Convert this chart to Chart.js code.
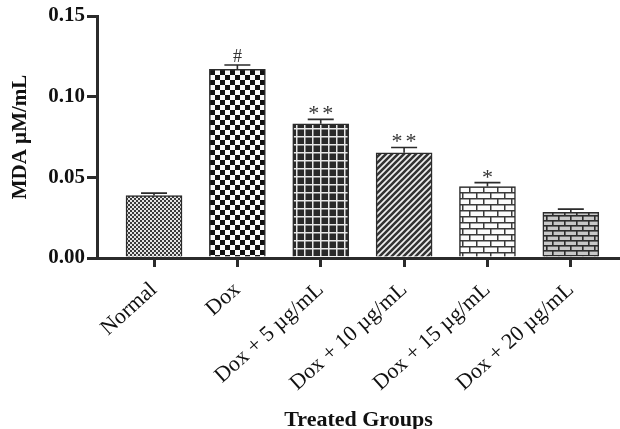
<!DOCTYPE html>
<html>
<head>
<meta charset="utf-8">
<script src="https://cdn.jsdelivr.net/npm/chart.js@4.4.1/dist/chart.umd.min.js"></script>
<style>
  html, body { margin: 0; padding: 0; background: #fff; }
  #wrap { width: 620px; height: 429px; }
</style>
</head>
<body>
<div id="wrap"><canvas id="chart" width="620" height="429"></canvas></div>
<script>
const categories = ['Normal', 'Dox', 'Dox + 5 \u00b5g/mL', 'Dox + 10 \u00b5g/mL', 'Dox + 15 \u00b5g/mL', 'Dox + 20 \u00b5g/mL'];
const mdaValues = [0.0387, 0.117, 0.0832, 0.0652, 0.0443, 0.0283];
const mdaErrors = [0.0015, 0.0026, 0.0027, 0.0033, 0.0024, 0.0020];
const significance = ['', '#', '**', '**', '*', ''];
const yTicks = [0, 0.05, 0.10, 0.15];

const AXIS = '#2b2b2b';
const SERIF = '"Liberation Serif", "DejaVu Serif", serif';

// small tiles used as bar fills
function makePattern(w, h, draw) {
  const c = document.createElement('canvas');
  c.width = w; c.height = h;
  const g = c.getContext('2d');
  draw(g, w, h);
  return g.createPattern(c, 'repeat');
}

const patterns = [
  // fine halftone
  makePattern(4, 4, (g) => {
    g.fillStyle = '#e4e4e4'; g.fillRect(0, 0, 4, 4);
    g.fillStyle = '#3a3a3a'; g.fillRect(0, 0, 2, 2); g.fillRect(2, 2, 2, 2);
  }),
  // large checker
  makePattern(10, 10, (g) => {
    g.fillStyle = '#fafafa'; g.fillRect(0, 0, 10, 10);
    g.fillStyle = '#111'; g.fillRect(0, 0, 5, 5); g.fillRect(5, 5, 5, 5);
  }),
  // dark with white grid
  makePattern(8, 8, (g) => {
    g.fillStyle = '#2a2a2a'; g.fillRect(0, 0, 8, 8);
    g.fillStyle = '#e8e8e8'; g.fillRect(0, 0, 8, 1.5); g.fillRect(0, 0, 1.5, 8);
  }),
  // diagonal dashes
  makePattern(6, 6, (g) => {
    g.fillStyle = '#f0f0f0'; g.fillRect(0, 0, 6, 6);
    g.strokeStyle = '#333'; g.lineWidth = 2.6;
    g.beginPath();
    g.moveTo(-1, 7); g.lineTo(7, -1);
    g.moveTo(-4, 4); g.lineTo(4, -4);
    g.moveTo(2, 10); g.lineTo(10, 2);
    g.stroke();
  }),
  // light bricks
  makePattern(14, 12, (g) => {
    g.fillStyle = '#fbfbfb'; g.fillRect(0, 0, 14, 12);
    g.fillStyle = '#3a3a3a';
    g.fillRect(0, 0, 14, 1.5); g.fillRect(0, 6, 14, 1.5);
    g.fillRect(0, 0, 1.5, 6); g.fillRect(7, 6, 1.5, 6);
  }),
  // darker small bricks
  makePattern(12, 10, (g) => {
    g.fillStyle = '#c8c8c8'; g.fillRect(0, 0, 12, 10);
    g.fillStyle = '#2e2e2e';
    g.fillRect(0, 0, 12, 1.6); g.fillRect(0, 5, 12, 1.6);
    g.fillRect(0, 0, 1.6, 5); g.fillRect(6, 5, 1.6, 5);
  })
];

// error bars (upper only) and significance marks
const errorBarPlugin = {
  id: 'errorBars',
  afterDatasetsDraw(chart) {
    const { ctx, scales: { x, y } } = chart;
    ctx.save();
    ctx.strokeStyle = AXIS;
    ctx.lineWidth = 1.6;
    mdaValues.forEach((v, i) => {
      const px = x.getPixelForValue(i + 1);
      const top = y.getPixelForValue(v + mdaErrors[i]);
      const base = y.getPixelForValue(v);
      ctx.beginPath();
      ctx.moveTo(px, base); ctx.lineTo(px, top);
      ctx.moveTo(px - 13, top); ctx.lineTo(px + 13, top);
      ctx.stroke();
      const s = significance[i];
      if (s) {
        ctx.fillStyle = '#333';
        ctx.textAlign = 'center';
        ctx.textBaseline = 'alphabetic';
        if (s === '#') {
          ctx.font = '18px ' + SERIF;
          ctx.fillText(s, px, top - 3);
        } else {
          ctx.font = '22px ' + SERIF;
          const gap = 14;
          const start = px - (s.length - 1) * gap / 2;
          for (let k = 0; k < s.length; k++) ctx.fillText('*', start + k * gap, top + 1);
        }
      }
    });
    ctx.restore();
  }
};

new Chart(document.getElementById('chart'), {
  type: 'bar',
  data: {
    datasets: [{
      data: mdaValues.map((v, i) => ({ x: i + 1, y: v })),
      backgroundColor: patterns,
      borderColor: AXIS,
      borderWidth: 1.5,
      borderSkipped: 'bottom',
      barThickness: 56
    }]
  },
  options: {
    responsive: false,
    animation: false,
    layout: { padding: { top: 16, right: 0, left: 0, bottom: 0 } },
    plugins: { legend: { display: false }, tooltip: { enabled: false } },
    scales: {
      x: {
        type: 'linear',
        offset: false,
        min: 0.316,
        max: 6.59,
        afterBuildTicks: (s) => { s.ticks = categories.map((c, i) => ({ value: i + 1 })); },
        afterFit: (s) => { s.height = 171; },
        ticks: {
          autoSkip: false,
          minRotation: 42,
          maxRotation: 42,
          padding: 10,
          color: '#111',
          font: { family: SERIF, size: 22 },
          callback: (v) => categories[v - 1]
        },
        grid: { offset: false, drawOnChartArea: false, drawTicks: true, tickLength: 9, lineWidth: 3, color: AXIS },
        border: { display: true, width: 3, color: AXIS },
        title: {
          display: true,
          text: 'Treated Groups',
          color: '#111',
          font: { family: SERIF, size: 22, weight: 'bold', lineHeight: 0.8 },
          padding: { top: 0, bottom: 0 }
        }
      },
      y: {
        min: 0,
        max: 0.15,
        afterBuildTicks: (s) => { s.ticks = yTicks.map((v) => ({ value: v })); },
        afterFit: (s) => { s.width = 97; },
        ticks: {
          color: '#111',
          padding: 2,
          font: { family: SERIF, size: 21, weight: 'bold' },
          callback: (v) => v.toFixed(2)
        },
        grid: { drawOnChartArea: false, drawTicks: true, tickLength: 10, lineWidth: 3, color: AXIS },
        border: { display: true, width: 3, color: AXIS },
        title: {
          display: true,
          text: 'MDA \u00b5M/mL',
          color: '#111',
          font: { family: SERIF, size: 21, weight: 'bold' },
          padding: { top: 8, bottom: 0 }
        }
      }
    }
  },
  plugins: [errorBarPlugin]
});
</script>
</body>
</html>
